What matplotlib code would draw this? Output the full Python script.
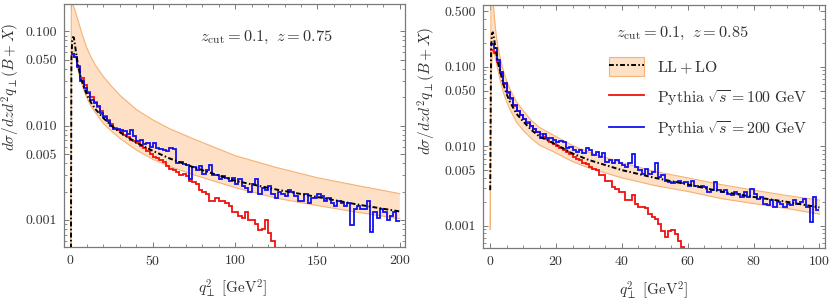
import numpy as np
import matplotlib
matplotlib.use("Agg")
import matplotlib.pyplot as plt
from matplotlib.patches import Patch
from matplotlib.lines import Line2D
from matplotlib.ticker import FixedLocator, FixedFormatter

plt.rcParams['font.family'] = ['cmr10', 'DejaVu Serif']
plt.rcParams['mathtext.fontset'] = 'cm'
plt.rcParams['axes.formatter.use_mathtext'] = True

# ---------------- data: left panel (z = 0.75) ----------------
theory_x_left = [0, 0.5, 1, 1.5, 2, 3, 4, 5, 6.5, 8, 10, 12.5, 15, 20, 25, 30,
                 40, 50, 60, 75, 100, 125, 150, 175, 200]
theory_mid_left = [1e-5, 0.05, 0.080, 0.087, 0.086, 0.065, 0.050, 0.040, 0.031,
                   0.026, 0.021, 0.0175, 0.0150, 0.0120, 0.0099, 0.0085, 0.0066,
                   0.0054, 0.0045, 0.0036, 0.0026, 0.0021, 0.00175, 0.00145, 0.00123]
theory_hi_left = [1e-5, 0.6, 0.21, 0.19, 0.18, 0.16, 0.14, 0.123, 0.100, 0.083,
                  0.066, 0.053, 0.044, 0.033, 0.026, 0.021, 0.0148, 0.0115,
                  0.0093, 0.0072, 0.0048, 0.0036, 0.0028, 0.0023, 0.0019]
theory_lo_left = [1e-5, 0.035, 0.058, 0.062, 0.060, 0.052, 0.043, 0.036, 0.029,
                  0.024, 0.0195, 0.0160, 0.0138, 0.0105, 0.0087, 0.0073, 0.0055,
                  0.0044, 0.0037, 0.0030, 0.0022, 0.0017, 0.00142, 0.00120, 0.00103]

# Pythia histograms, bin width 2 GeV^2
bin_w_left = 2
blue_left = [0.058, 0.053, 0.042, 0.030, 0.025, 0.022, 0.0185, 0.0175, 0.016, 0.0135,
             0.0122, 0.0112, 0.0100, 0.0092, 0.0091, 0.0089, 0.0087, 0.0082, 0.0090, 0.0078,
             0.0068, 0.0070, 0.0064, 0.0066, 0.0060, 0.0066, 0.0058, 0.0057, 0.0055, 0.0054,
             0.0058, 0.0057, 0.0040, 0.0041, 0.0039, 0.0038, 0.0027, 0.0036, 0.0034, 0.0037,
             0.0031, 0.0034, 0.0038, 0.0030, 0.0030, 0.0027, 0.0029, 0.0028, 0.0026, 0.0028,
             0.0024, 0.0027, 0.0023, 0.0022, 0.0020, 0.0024, 0.0027, 0.0019, 0.0022, 0.0021,
             0.0023, 0.0019, 0.0017, 0.0020, 0.0019, 0.0018, 0.0021, 0.0020, 0.0018, 0.0016,
             0.0016, 0.0019, 0.0015, 0.0017, 0.0017, 0.0019, 0.0018, 0.0016, 0.0017, 0.0015,
             0.0014, 0.0016, 0.0015, 0.0014, 0.0015, 0.00088, 0.0013, 0.0014, 0.0013, 0.0013,
             0.0016, 0.00075, 0.0012, 0.00105, 0.0013, 0.0012, 0.0010, 0.0011, 0.0012, 0.00098]
red_left = [0.058, 0.054, 0.043, 0.032, 0.027, 0.023, 0.020, 0.0178, 0.0158, 0.0142,
            0.0128, 0.0115, 0.0104, 0.0095, 0.0090, 0.0085, 0.0080, 0.0075, 0.0071, 0.0068,
            0.0065, 0.0061, 0.0058, 0.0054, 0.0050, 0.0046, 0.0045, 0.0043, 0.0041, 0.0037,
            0.0035, 0.0034, 0.0032, 0.0030, 0.0031, 0.0029, 0.0026, 0.0025, 0.0024, 0.0021,
            0.0020, 0.0019, 0.0016, 0.0016, 0.0017, 0.0016, 0.0016, 0.0015, 0.0014, 0.0012,
            0.0012, 0.0011, 0.00105, 0.0012, 0.0010, 0.0010, 0.0009, 0.00078, 0.00080, 0.0010,
            0.00072, 0.00060, 0.0002]

# ---------------- data: right panel (z = 0.85) ----------------
theory_x_right = [0, 0.25, 0.5, 0.8, 1.2, 1.6, 2, 2.5, 3, 4, 5, 6, 8, 10, 12.5, 15,
                  20, 25, 30, 40, 50, 60, 70, 80, 90, 100]
theory_mid_right = [0.0028, 0.15, 0.26, 0.27, 0.22, 0.17, 0.135, 0.105, 0.088, 0.060,
                    0.045, 0.036, 0.0255, 0.0205, 0.016, 0.0132, 0.0105, 0.0081, 0.0067,
                    0.0050, 0.0040, 0.0033, 0.0027, 0.0023, 0.0020, 0.0017]
theory_hi_right = [0.0009, 1.0, 1.0, 0.7, 0.45, 0.30, 0.22, 0.165, 0.13, 0.088,
                   0.066, 0.052, 0.036, 0.028, 0.021, 0.0172, 0.0132, 0.0102, 0.0084,
                   0.0062, 0.0048, 0.0040, 0.0033, 0.0028, 0.0024, 0.0021]
theory_lo_right = [0.0009, 0.06, 0.12, 0.16, 0.15, 0.125, 0.105, 0.085, 0.068, 0.047,
                   0.036, 0.029, 0.020, 0.0158, 0.0125, 0.0103, 0.0082, 0.0064, 0.0053,
                   0.0040, 0.0032, 0.0027, 0.0022, 0.0019, 0.00165, 0.0014]

# Pythia histograms, bin width 1 GeV^2
bin_w_right = 1
blue_right = [0.19, 0.17, 0.12, 0.085, 0.062, 0.048, 0.040, 0.033, 0.028, 0.025,
              0.022, 0.0195, 0.018, 0.0165, 0.0150, 0.0128, 0.0142, 0.0125, 0.0128, 0.0120,
              0.0112, 0.0115, 0.0114, 0.0095, 0.0098, 0.0089, 0.0085, 0.0089, 0.0081, 0.0094,
              0.0089, 0.0077, 0.0085, 0.0073, 0.0081, 0.0064, 0.0067, 0.0061, 0.0067, 0.0061,
              0.0058, 0.0055, 0.0061, 0.0080, 0.0055, 0.0050, 0.0045, 0.0052, 0.0045, 0.0047,
              0.0062, 0.0041, 0.0043, 0.0037, 0.0035, 0.0034, 0.0035, 0.0037, 0.0034, 0.0035,
              0.0032, 0.0037, 0.0032, 0.0031, 0.0032, 0.0031, 0.00265, 0.0028, 0.0035, 0.0028,
              0.00265, 0.0028, 0.00253, 0.00241, 0.00265, 0.00253, 0.0023, 0.00265, 0.0023, 0.0029,
              0.00253, 0.00219, 0.0023, 0.00189, 0.0018, 0.00208, 0.00172, 0.00199, 0.00189, 0.00172,
              0.00189, 0.0018, 0.00208, 0.00189, 0.00199, 0.00219, 0.00172, 0.00111, 0.0023, 0.00159]
red_right = [0.16, 0.15, 0.115, 0.083, 0.060, 0.047, 0.039, 0.032, 0.028, 0.025,
             0.022, 0.020, 0.018, 0.0165, 0.0152, 0.0142, 0.0132, 0.0122, 0.0112, 0.0106,
             0.0100, 0.0094, 0.0090, 0.0085, 0.0080, 0.0074, 0.0070, 0.0068, 0.0062, 0.0059,
             0.0055, 0.0051, 0.0050, 0.0043, 0.0043, 0.0037, 0.0037, 0.0031, 0.0029, 0.00265,
             0.00265, 0.00208, 0.00208, 0.00241, 0.00189, 0.00172, 0.00172, 0.00165, 0.00142, 0.00129,
             0.00122, 0.00106, 0.00087, 0.00072, 0.00087, 0.00089, 0.00079, 0.00065, 0.00054, 0.0002]

yticks_left = [0.001, 0.005, 0.01, 0.05, 0.1]
yticks_right = [0.001, 0.005, 0.01, 0.05, 0.1, 0.5]
ytick_labels = {0.001: "0.001", 0.005: "0.005", 0.01: "0.010",
                0.05: "0.050", 0.1: "0.100", 0.5: "0.500"}

band_face = '#fde0c6'
band_edge = '#f6b273'
frame_col = '#7a7a7a'
text_col = '#333333'


def draw_panel(ax, tx, tmid, thi, tlo, blue, red, bw, xlim, ylim,
               xmajor, xminor, yticks, note):
    ax.fill_between(tx, tlo, thi, color=band_face, lw=0)
    ax.plot(tx, thi, color=band_edge, lw=0.8)
    ax.plot(tx, tlo, color=band_edge, lw=0.8)
    edges_b = np.arange(len(blue) + 1) * bw
    edges_r = np.arange(len(red) + 1) * bw
    ax.stairs(red, edges_r, baseline=None, color='#ee1111', lw=1.3, zorder=3)
    ax.stairs(blue, edges_b, baseline=None, color='#1111ee', lw=1.3, zorder=4)
    ax.plot(tx, tmid, color='black', lw=1.4, dashes=(2.5, 1.2, 0.8, 1.2), zorder=5)

    ax.set_yscale('log')
    ax.set_xlim(*xlim)
    ax.set_ylim(*ylim)
    ax.xaxis.set_major_locator(FixedLocator(xmajor))
    ax.xaxis.set_minor_locator(FixedLocator(xminor))
    ax.yaxis.set_major_locator(FixedLocator(yticks))
    ax.yaxis.set_major_formatter(FixedFormatter([ytick_labels[t] for t in yticks]))
    minors = [m * 10.0 ** e for e in range(-4, 1) for m in range(1, 10)]
    minors = [v for v in minors if not any(abs(v - t) < 1e-9 for t in yticks)]
    ax.yaxis.set_minor_locator(FixedLocator(minors))
    ax.yaxis.set_minor_formatter(FixedFormatter([]))

    for s in ax.spines.values():
        s.set_color(frame_col)
        s.set_linewidth(0.9)
    ax.tick_params(which='both', direction='in', top=True, right=True,
                   color=frame_col, labelcolor=text_col, labelsize=10, pad=5)
    ax.tick_params(which='major', length=3.5, width=0.7)
    ax.tick_params(which='minor', length=2, width=0.6)

    ax.set_xlabel(r'$q_\perp^2\ [\mathrm{GeV}^2]$', fontsize=11, color=text_col)
    ax.set_ylabel(r'$d\sigma/dzd^2q_\perp(B+X)$', fontsize=11, color=text_col)
    ax.text(note[0], note[1], note[2], transform=ax.transAxes, fontsize=11.8,
            color=text_col, ha='left', va='center')


fig = plt.figure(figsize=(8.3, 3.03), dpi=100)
ax1 = fig.add_axes([0.0771, 0.1858, 0.4105, 0.801])
ax2 = fig.add_axes([0.5819, 0.1805, 0.4117, 0.803])

draw_panel(ax1, theory_x_left, theory_mid_left, theory_hi_left, theory_lo_left,
           blue_left, red_left, bin_w_left, (-4, 203), (0.00052, 0.195),
           [0, 50, 100, 150, 200], list(range(10, 200, 10)), yticks_left,
           (0.40, 0.862, r'$z_{\rm cut}=0.1,\ z=0.75$'))
draw_panel(ax2, theory_x_right, theory_mid_right, theory_hi_right, theory_lo_right,
           blue_right, red_right, bin_w_right, (-2.2, 101.6), (0.00052, 0.596),
           [0, 20, 40, 60, 80, 100], list(range(5, 100, 5)), yticks_right,
           (0.39, 0.885, r'$z_{\rm cut}=0.1,\ z=0.85$'))

ax1.xaxis.set_label_coords(0.496, -0.125)
ax2.xaxis.set_label_coords(0.50, -0.125)
ax1.yaxis.set_label_coords(-0.122, 0.66)
ax2.yaxis.set_label_coords(-0.133, 0.647)

# legend in right panel
h_theory = (Patch(facecolor=band_face, edgecolor=band_edge, lw=0.8),
            Line2D([], [], color='black', lw=1.4, dashes=(2.5, 1.2, 0.8, 1.2)))
h_red = Line2D([], [], color='#ee1111', lw=1.3)
h_blue = Line2D([], [], color='#1111ee', lw=1.3)
ax2.legend([h_theory, h_red, h_blue],
           [r'$\mathrm{LL}+\mathrm{LO}$',
            r'$\mathrm{Pythia}\ \sqrt{s}=100\ \mathrm{GeV}$',
            r'$\mathrm{Pythia}\ \sqrt{s}=200\ \mathrm{GeV}$'],
           loc='upper left', bbox_to_anchor=(0.37, 0.785), frameon=False,
           fontsize=11.4, handlelength=2.2, handleheight=1.45, labelspacing=0.74,
           handletextpad=0.8, borderpad=0, borderaxespad=0, labelcolor=text_col)

fig.savefig('out.png', dpi=100)
